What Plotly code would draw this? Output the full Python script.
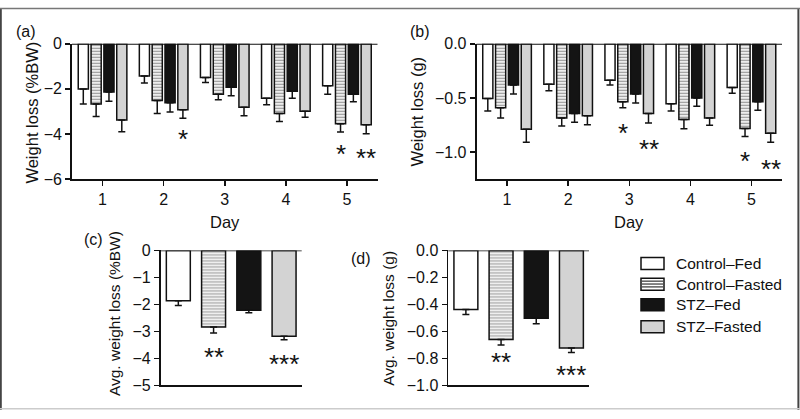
import plotly.graph_objects as go

W, H = 800, 419
FONT = "Liberation Sans, Arial, Helvetica, sans-serif"
INK = "#111111"

# ---------------- data ----------------
days = [1, 2, 3, 4, 5]
groups = ["Control–Fed", "Control–Fasted", "STZ–Fed", "STZ–Fasted"]

# (a) daily weight loss, % body weight (mean, SEM)
a_control_fed = [-2.00, -1.43, -1.50, -2.41, -1.86]
a_control_fed_err = [0.67, 0.31, 0.22, 0.29, 0.38]
a_control_fasted = [-2.67, -2.52, -2.24, -3.09, -3.55]
a_control_fasted_err = [0.55, 0.57, 0.24, 0.36, 0.36]
a_stz_fed = [-2.14, -2.62, -1.93, -2.10, -2.24]
a_stz_fed_err = [0.41, 0.40, 0.38, 0.31, 0.33]
a_stz_fasted = [-3.38, -2.92, -2.81, -2.99, -3.59]
a_stz_fasted_err = [0.52, 0.38, 0.38, 0.27, 0.40]

# (b) daily weight loss, grams
b_control_fed = [-0.506, -0.375, -0.336, -0.553, -0.405]
b_control_fed_err = [0.114, 0.060, 0.044, 0.067, 0.053]
b_control_fasted = [-0.590, -0.685, -0.536, -0.700, -0.783]
b_control_fasted_err = [0.095, 0.075, 0.054, 0.086, 0.074]
b_stz_fed = [-0.380, -0.643, -0.464, -0.500, -0.536]
b_stz_fed_err = [0.084, 0.083, 0.084, 0.077, 0.077]
b_stz_fasted = [-0.790, -0.664, -0.643, -0.685, -0.827]
b_stz_fasted_err = [0.120, 0.083, 0.089, 0.068, 0.083]

# (c) average weight loss, % body weight
c_avg = [-1.86, -2.84, -2.22, -3.18]
c_err = [0.18, 0.22, 0.09, 0.13]

# (d) average weight loss, grams
d_avg = [-0.438, -0.661, -0.502, -0.723]
d_err = [0.036, 0.039, 0.041, 0.033]

# significance marks
a_star_day = [2, 5, 5]
a_star_group = [3, 1, 3]
a_star_text = ["*", "*", "**"]
a_star_y = [-4.06, -4.72, -4.87]

b_star_day = [3, 3, 5, 5]
b_star_group = [1, 3, 1, 3]
b_star_text = ["*", "**", "*", "**"]
b_star_y = [-0.783, -0.932, -1.05, -1.12]

c_star_x = [1, 3]
c_star_text = ["**", "***"]
c_star_y = [-3.81, -4.05]

d_star_x = [1, 3]
d_star_text = ["**", "***"]
d_star_y = [-0.80, -0.893]

a_ticks = [0, -2, -4, -6]
b_ticks = [0.0, -0.5, -1.0]
c_ticks = [0, -1, -2, -3, -4, -5]
d_ticks = [0.0, -0.2, -0.4, -0.6, -0.8, -1.0]

# ---------------- styles ----------------
fills = ["white", "white", "#141414", "#d3d3d3"]
patterns = ["", "-", "", ""]
BARGAP = 0.16
GROUPGAP = 0.21


def px(x):
    return x / W


def py(y):
    return 1 - y / H


def marker(i):
    m = dict(color=fills[i], line=dict(color=INK, width=1.5))
    if patterns[i]:
        m["pattern"] = dict(shape=patterns[i], fgcolor="#262626", bgcolor="white",
                            size=3, solidity=0.45)
    return m


def err(vals):
    return dict(type="data", symmetric=False, array=[0] * len(vals), arrayminus=vals,
                color=INK, thickness=1.5, width=3.5)


fig = go.Figure()

a_vals = [a_control_fed, a_control_fasted, a_stz_fed, a_stz_fasted]
a_errs = [a_control_fed_err, a_control_fasted_err, a_stz_fed_err, a_stz_fasted_err]
b_vals = [b_control_fed, b_control_fasted, b_stz_fed, b_stz_fasted]
b_errs = [b_control_fed_err, b_control_fasted_err, b_stz_fed_err, b_stz_fasted_err]

for i, g in enumerate(groups):
    fig.add_trace(go.Bar(x=days, y=a_vals[i], name=g, marker=marker(i),
                         error_y=err(a_errs[i]), xaxis="x", yaxis="y", showlegend=False))
for i, g in enumerate(groups):
    fig.add_trace(go.Bar(x=days, y=b_vals[i], name=g, marker=marker(i),
                         error_y=err(b_errs[i]), xaxis="x2", yaxis="y2", showlegend=False))

pos = list(range(len(groups)))
single_marker = dict(color=fills, line=dict(color=INK, width=1.5),
                     pattern=dict(shape=patterns, fgcolor="#262626", bgcolor="white",
                                  size=3, solidity=0.45))
fig.add_trace(go.Bar(x=pos, y=c_avg, width=0.68, marker=single_marker, error_y=err(c_err),
                     xaxis="x3", yaxis="y3", showlegend=False))
fig.add_trace(go.Bar(x=pos, y=d_avg, width=0.68, marker=single_marker, error_y=err(d_err),
                     xaxis="x4", yaxis="y4", showlegend=False))

tickfont = dict(family=FONT, size=16, color=INK)
axis_common = dict(showline=True, linecolor=INK, linewidth=1.8, ticks="outside",
                   ticklen=5, tickwidth=1.5, tickcolor=INK, showgrid=False,
                   zeroline=False, tickfont=tickfont, fixedrange=True)

ya_dom = [py(178.3), py(37.3)]
yc_dom = [py(393.3), py(252.7)]

fig.update_layout(
    width=W, height=H, autosize=False,
    margin=dict(l=0, r=0, t=0, b=0),
    paper_bgcolor="white", plot_bgcolor="white",
    barmode="group", bargap=BARGAP, bargroupgap=GROUPGAP,
    hovermode=False,
    font=dict(family=FONT, color=INK),
    xaxis=dict(axis_common, domain=[px(72), px(377.5)], range=[0.5, 5.5],
               tickvals=days, anchor="y"),
    yaxis=dict(axis_common, domain=ya_dom, range=[-6, 0], tickvals=a_ticks, anchor="x"),
    xaxis2=dict(axis_common, domain=[px(476.5), px(782)], range=[0.5, 5.5],
                tickvals=days, anchor="y2"),
    yaxis2=dict(axis_common, domain=ya_dom, range=[-1.25, 0], tickvals=b_ticks,
                tickformat=".1f", anchor="x2"),
    xaxis3=dict(axis_common, domain=[px(160.7), px(301.7)], range=[-0.5, 3.5],
                ticks="", showticklabels=False, anchor="y3"),
    yaxis3=dict(axis_common, domain=yc_dom, range=[-5, 0], tickvals=c_ticks, anchor="x3"),
    xaxis4=dict(axis_common, domain=[px(448.3), px(589)], range=[-0.5, 3.5],
                ticks="", showticklabels=False, anchor="y4"),
    yaxis4=dict(axis_common, domain=yc_dom, range=[-1, 0], tickvals=d_ticks,
                tickformat=".1f", anchor="x4"),
)

shapes = []
# zero baselines
for xr, yr in [("x", "y"), ("x2", "y2"), ("x3", "y3"), ("x4", "y4")]:
    shapes.append(dict(type="line", xref=f"{xr} domain", yref=yr, x0=0, x1=1, y0=0, y1=0,
                       line=dict(color=INK, width=1.8), layer="above"))

annotations = []


def label(text, x, y, size=15, angle=0, xanchor="center", yanchor="middle"):
    annotations.append(dict(text=text, x=px(x), y=py(y), xref="paper", yref="paper",
                            showarrow=False, textangle=angle, xanchor=xanchor,
                            yanchor=yanchor, font=dict(family=FONT, size=size, color=INK)))


# panel letters
label("(a)", 26, 25, size=16)
label("(b)", 420, 25, size=16)
label("(c)", 93, 241, size=16)
label("(d)", 361, 261, size=16)
# axis titles
label("Weight loss (%BW)", 32, 109, size=16.5, angle=-90)
label("Weight loss (g)", 417, 108, size=16.5, angle=-90)
label("Avg. weight loss (%BW)", 114, 318, size=15.5, angle=-90)
label("Avg. weight loss (g)", 389, 324, size=15.5, angle=-90)
label("Day", 224.7, 223, size=16.5)
label("Day", 629, 223, size=16.5)

# significance stars
slot = (1 - BARGAP) / len(groups)


def offset(gi):
    return (gi - (len(groups) - 1) / 2) * slot


STAR = dict(family=FONT, size=26, color=INK)
SHIFT = -4
for d, gi, t, y in zip(a_star_day, a_star_group, a_star_text, a_star_y):
    annotations.append(dict(text=t, x=d + offset(gi), y=y, xref="x", yref="y",
                            showarrow=False, font=STAR, yshift=SHIFT))
for d, gi, t, y in zip(b_star_day, b_star_group, b_star_text, b_star_y):
    annotations.append(dict(text=t, x=d + offset(gi), y=y, xref="x2", yref="y2",
                            showarrow=False, font=STAR, yshift=SHIFT))
for x, t, y in zip(c_star_x, c_star_text, c_star_y):
    annotations.append(dict(text=t, x=x, y=y, xref="x3", yref="y3",
                            showarrow=False, font=STAR, yshift=SHIFT))
for x, t, y in zip(d_star_x, d_star_text, d_star_y):
    annotations.append(dict(text=t, x=x, y=y, xref="x4", yref="y4",
                            showarrow=False, font=STAR, yshift=SHIFT))

# manual legend
row_top = [260, 281.7, 303, 326]
box_h = 12.5
for i, g in enumerate(groups):
    y0, y1 = row_top[i], row_top[i] + box_h
    shapes.append(dict(type="rect", xref="paper", yref="paper", x0=px(641), x1=px(664),
                       y0=py(y1), y1=py(y0), fillcolor=fills[i],
                       line=dict(color=INK, width=1.5), layer="above"))
    if patterns[i] == "-":
        yy = y0 + 3
        while yy < y1 - 1:
            shapes.append(dict(type="line", xref="paper", yref="paper", x0=px(642),
                               x1=px(663), y0=py(yy), y1=py(yy),
                               line=dict(color="#333", width=1.2), layer="above"))
            yy += 3
    label(g, 674, (y0 + y1) / 2, size=15.5, xanchor="left")

# outer frame
shapes += [
    dict(type="line", xref="paper", yref="paper", x0=0.001, x1=0.001, y0=0, y1=1,
         line=dict(color="#444", width=2)),
    dict(type="line", xref="paper", yref="paper", x0=0.998, x1=0.998, y0=0, y1=1,
         line=dict(color="#444", width=2)),
    dict(type="line", xref="paper", yref="paper", x0=0, x1=1, y0=0.999, y1=0.999,
         line=dict(color="#777", width=1.5)),
    dict(type="line", xref="paper", yref="paper", x0=0, x1=1, y0=0.003, y1=0.003,
         line=dict(color="#ccc", width=1.5)),
]

fig.update_layout(shapes=shapes, annotations=annotations)
fig.write_html(
    "out.html",
    config={"displayModeBar": False, "staticPlot": True},
    post_script="document.body.style.margin='0';document.body.style.overflow='hidden';",
)
